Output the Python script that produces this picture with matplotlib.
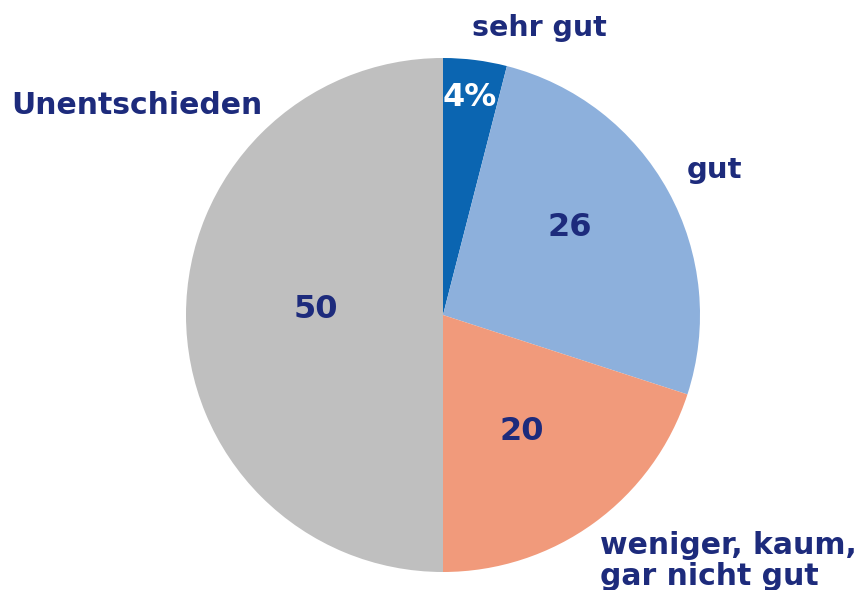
import matplotlib.pyplot as plt

# Daten
labels = ["sehr gut", "gut", "weniger, kaum,\ngar nicht gut", "Unentschieden"]
values = [4, 26, 20, 50]
value_text = ["4%", "26", "20", "50"]
colors = ["#0b65b1", "#8db0dc", "#f19a7b", "#bfbfbf"]

navy = "#1d2b7c"
plt.rcParams["font.family"] = ["DejaVu Sans"]

fig = plt.figure(figsize=(8.66, 5.9), dpi=100)
ax = fig.add_axes([0, 0, 1, 1])
H = 590

ax.pie(values, colors=colors, startangle=90, counterclock=False,
       center=(443, H - 315), radius=257, frame=True,
       wedgeprops=dict(linewidth=0))
ax.set_xlim(0, 866)
ax.set_ylim(0, H)
ax.set_aspect("equal")
ax.axis("off")

# Werte in den Segmenten
val_pos = [(470, 97), (570, 228), (522, 432), (316, 310)]
for (x, y), t, c in zip(val_pos, value_text, ["white", navy, navy, navy]):
    ax.text(x, H - y, t, color=c, fontsize=23, fontweight="bold",
            ha="center", va="center")

# Beschriftungen
ax.text(539, H - 28, labels[0], color=navy, fontsize=20.5, fontweight="bold",
        ha="center", va="center")
ax.text(715, H - 170, labels[1], color=navy, fontsize=21, fontweight="bold",
        ha="center", va="center")
ax.text(600, H - 561, labels[2], color=navy, fontsize=21.5, fontweight="bold",
        ha="left", va="center", linespacing=1.05)
ax.text(137, H - 105, labels[3], color=navy, fontsize=21.5, fontweight="bold",
        ha="center", va="center")

plt.savefig("out.png", dpi=100)
plt.close()
